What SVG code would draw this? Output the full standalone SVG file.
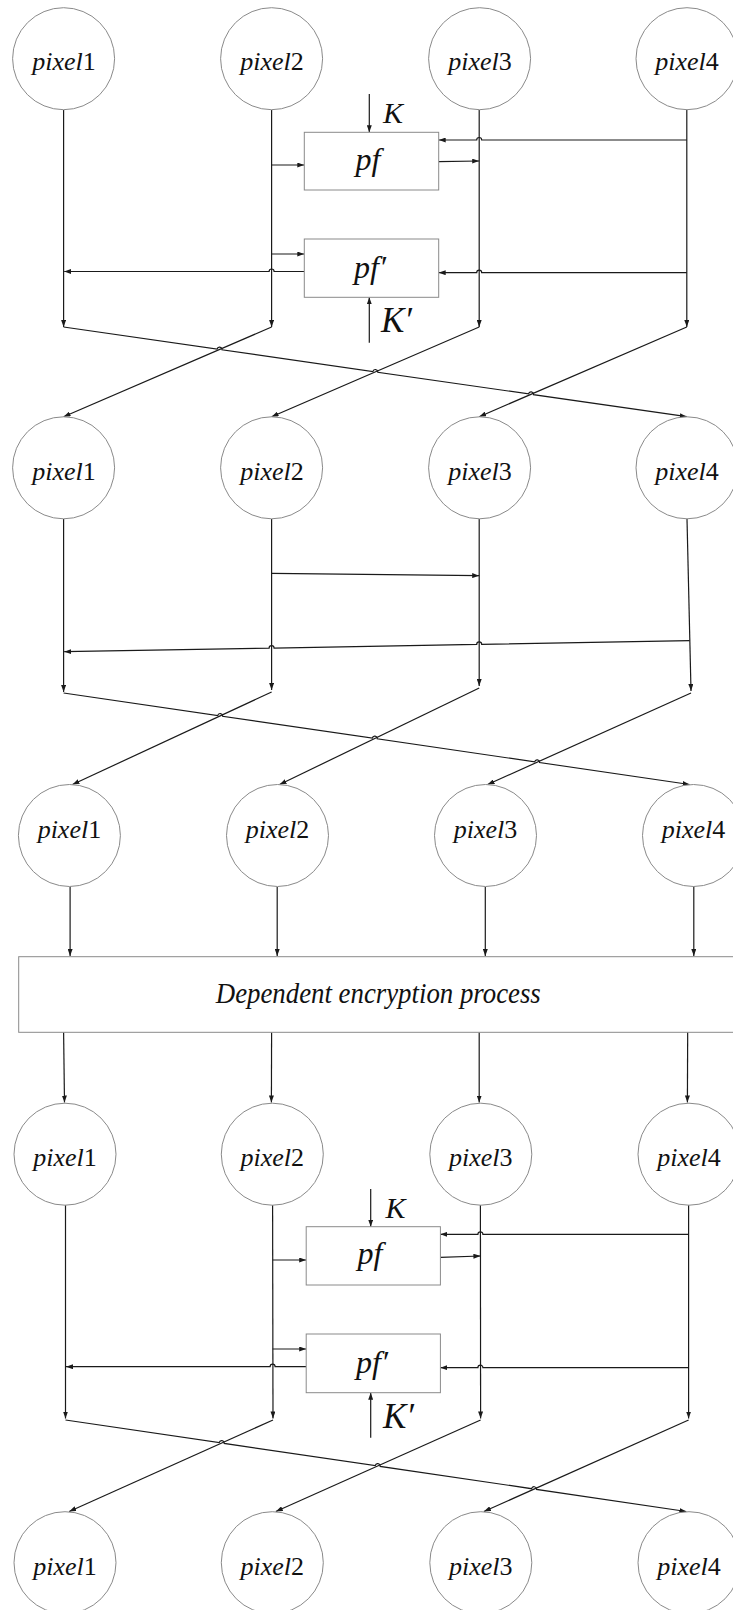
<svg xmlns="http://www.w3.org/2000/svg" width="733" height="1610" viewBox="0 0 733 1610">
  <defs>
    <marker id="ah" markerWidth="7" markerHeight="5" refX="7" refY="2.5" orient="auto" markerUnits="userSpaceOnUse">
      <path d="M0,0 L7,2.5 L0,5 z" fill="#1a1a1a"/>
    </marker>
    <style>
      text { font-family: 'Liberation Serif', 'DejaVu Serif', 'Times New Roman', serif; fill: #111; }
      .node { fill: #ffffff; stroke: #8a8a8a; stroke-width: 1; }
      .lbl { font-size: 26px; text-anchor: middle; }
      .it { font-style: italic; }
      .up { font-style: normal; }
      .fn { font-style: italic; font-size: 32px; text-anchor: middle; }
      .key { font-style: italic; }
      .big { font-style: italic; font-size: 29px; text-anchor: middle; }
      .a { fill: none; stroke: #1a1a1a; stroke-width: 1.2; marker-end: url(#ah); }
    </style>
  </defs>

  <rect x="0" y="0" width="733" height="1610" fill="#ffffff"/>

  <!-- connectors -->
  <g id="connectors">
    <!-- stage 1: first pixel row to permutation -->
    <path class="a" d="M63.6,110 L63.6,327"/>
    <path class="a" d="M271.6,110 L271.6,327"/>
    <path class="a" d="M479.2,110 L479.2,327"/>
    <path class="a" d="M686.8,110 L686.8,327"/>
    <path class="a" d="M369.3,94 L369.3,132.3"/>
    <path class="a" d="M686.8,140 L481.7,140 A2.5,2.5 0 0 0 476.7,140 L438.7,140"/>
    <path class="a" d="M271.6,165 L304.3,165"/>
    <path class="a" d="M438.7,161.7 L479.2,161"/>
    <path class="a" d="M271.6,254 L304.3,254"/>
    <path class="a" d="M304.3,271.5 L274.1,271.5 A2.5,2.5 0 0 0 269.1,271.5 L64.2,271.5"/>
    <path class="a" d="M686.8,272.7 L481.7,272.7 A2.5,2.5 0 0 0 476.7,272.7 L438.7,272.7"/>
    <path class="a" d="M369.3,342.7 L369.3,297.3"/>
    <path class="a" d="M63.6,327 L217.08,349.09 A2.5,2.5 0 0 1 222.02,349.81 L372.86,371.51 A2.5,2.5 0 0 1 377.8,372.23 L528.58,393.92 A2.5,2.5 0 0 1 533.52,394.64 L686.8,416.7"/>
    <path class="a" d="M271.6,327 L63.6,416.7"/>
    <path class="a" d="M479.2,327 L271.6,416.7"/>
    <path class="a" d="M686.8,327 L479.2,416.7"/>

    <!-- stage 2: second pixel row to permutation -->
    <path class="a" d="M63.6,519 L63.6,692"/>
    <path class="a" d="M271.6,519 L271.6,690"/>
    <path class="a" d="M479.2,519 L479.2,686"/>
    <path class="a" d="M687,519 L691,691"/>
    <path class="a" d="M271.6,573.3 L479.2,575.7"/>
    <path class="a" d="M689.6,640.7 L481.7,644.37 A2.5,2.5 0 0 0 476.7,644.45 L274.1,648.03 A2.5,2.5 0 0 0 269.1,648.11 L64.2,651.7"/>
    <path class="a" d="M63.6,693 L217.71,715.53 A2.5,2.5 0 0 1 222.65,716.25 L372.31,738.13 A2.5,2.5 0 0 1 377.25,738.85 L534.68,761.86 A2.5,2.5 0 0 1 539.62,762.58 L689.6,784.5"/>
    <path class="a" d="M271.6,692 L72.5,784.5"/>
    <path class="a" d="M479.2,688 L279.6,784.5"/>
    <path class="a" d="M691,693 L487.6,784.5"/>

    <!-- stage 3: into and out of the dependent encryption block -->
    <path class="a" d="M70.1,887 L70.1,956"/>
    <path class="a" d="M277.2,887 L277.2,956"/>
    <path class="a" d="M485.3,887 L485.3,956"/>
    <path class="a" d="M693.8,881.7 L693.8,956"/>
    <path class="a" d="M63.6,1032.3 L64.5,1102.5"/>
    <path class="a" d="M271.6,1032.3 L271.4,1102.5"/>
    <path class="a" d="M479.2,1032.3 L479.2,1102.5"/>
    <path class="a" d="M687.7,1027 L687.4,1102.5"/>

    <!-- stage 4: fourth pixel row to permutation -->
    <path class="a" d="M65.5,1205 L65.5,1418.5"/>
    <path class="a" d="M272.6,1205 L273,1418.5"/>
    <path class="a" d="M480.4,1205 L480.6,1418.5"/>
    <path class="a" d="M688.6,1205 L688.6,1418.5"/>
    <path class="a" d="M370.7,1189 L370.7,1226.7"/>
    <path class="a" d="M688.6,1234.3 L482.9,1234.3 A2.5,2.5 0 0 0 477.9,1234.3 L440.4,1234.3"/>
    <path class="a" d="M272.6,1260 L306.2,1260"/>
    <path class="a" d="M440.4,1257.3 L480.4,1256"/>
    <path class="a" d="M272.6,1349 L306.2,1349"/>
    <path class="a" d="M306.2,1366.7 L275.1,1366.7 A2.5,2.5 0 0 0 270.1,1366.7 L66,1366.7"/>
    <path class="a" d="M688.6,1367.7 L482.9,1367.7 A2.5,2.5 0 0 0 477.9,1367.7 L440.4,1367.7"/>
    <path class="a" d="M370.7,1437.7 L370.7,1392.7"/>
    <path class="a" d="M65.5,1420 L219.25,1442.67 A2.5,2.5 0 0 1 224.19,1443.39 L375.23,1465.66 A2.5,2.5 0 0 1 380.17,1466.38 L531.61,1488.7 A2.5,2.5 0 0 1 536.55,1489.42 L686.3,1511.5"/>
    <path class="a" d="M273,1420 L69.2,1511.5"/>
    <path class="a" d="M480.6,1420 L275.8,1511.5"/>
    <path class="a" d="M688.6,1420 L483.9,1511.5"/>
  </g>

  <!-- row 1 -->
  <g id="r1p1"><circle class="node" cx="63.6" cy="58.7" r="51"/><text class="lbl" x="64" y="69.5"><tspan class="it">pixel</tspan><tspan class="up">1</tspan></text></g>
  <g id="r1p2"><circle class="node" cx="271.6" cy="58.7" r="51"/><text class="lbl" x="272" y="69.5"><tspan class="it">pixel</tspan><tspan class="up">2</tspan></text></g>
  <g id="r1p3"><circle class="node" cx="479.6" cy="58.7" r="51"/><text class="lbl" x="480" y="69.5"><tspan class="it">pixel</tspan><tspan class="up">3</tspan></text></g>
  <g id="r1p4"><circle class="node" cx="687" cy="58.7" r="51"/><text class="lbl" x="687" y="69.5"><tspan class="it">pixel</tspan><tspan class="up">4</tspan></text></g>

  <!-- first permutation pair -->
  <g id="pf1"><rect class="node" x="304.3" y="132.3" width="134.4" height="57.7"/><text class="fn" x="368" y="169.5">pf</text></g>
  <g id="k1"><text class="key" x="383" y="122.7" font-size="30">K</text></g>
  <g id="pfp1"><rect class="node" x="304.3" y="239" width="134.4" height="58.3"/><text class="fn" x="370" y="278">pf′</text></g>
  <g id="kp1"><text class="key" x="381" y="332" font-size="35">K′</text></g>

  <!-- row 2 -->
  <g id="r2p1"><circle class="node" cx="63.6" cy="467.8" r="51"/><text class="lbl" x="64" y="479.5"><tspan class="it">pixel</tspan><tspan class="up">1</tspan></text></g>
  <g id="r2p2"><circle class="node" cx="271.6" cy="467.8" r="51"/><text class="lbl" x="272" y="479.5"><tspan class="it">pixel</tspan><tspan class="up">2</tspan></text></g>
  <g id="r2p3"><circle class="node" cx="479.6" cy="467.8" r="51"/><text class="lbl" x="480" y="479.5"><tspan class="it">pixel</tspan><tspan class="up">3</tspan></text></g>
  <g id="r2p4"><circle class="node" cx="687" cy="467.8" r="51"/><text class="lbl" x="687" y="479.5"><tspan class="it">pixel</tspan><tspan class="up">4</tspan></text></g>

  <!-- row 3 -->
  <g id="r3p1"><circle class="node" cx="69.4" cy="835.5" r="51"/><text class="lbl" x="69.4" y="838.3"><tspan class="it">pixel</tspan><tspan class="up">1</tspan></text></g>
  <g id="r3p2"><circle class="node" cx="277.5" cy="835.5" r="51"/><text class="lbl" x="277.5" y="838.3"><tspan class="it">pixel</tspan><tspan class="up">2</tspan></text></g>
  <g id="r3p3"><circle class="node" cx="485.5" cy="835.5" r="51"/><text class="lbl" x="485.5" y="838.3"><tspan class="it">pixel</tspan><tspan class="up">3</tspan></text></g>
  <g id="r3p4"><circle class="node" cx="693.5" cy="835.5" r="51"/><text class="lbl" x="693.5" y="838.3"><tspan class="it">pixel</tspan><tspan class="up">4</tspan></text></g>

  <!-- dependent encryption block -->
  <g id="dep"><rect class="node" x="18.7" y="956.7" width="730" height="75.6"/><text class="big" x="378.3" y="1003.3" textLength="325" lengthAdjust="spacingAndGlyphs">Dependent encryption process</text></g>

  <!-- row 4 -->
  <g id="r4p1"><circle class="node" cx="65" cy="1154.2" r="51"/><text class="lbl" x="65" y="1165.5"><tspan class="it">pixel</tspan><tspan class="up">1</tspan></text></g>
  <g id="r4p2"><circle class="node" cx="272.3" cy="1154.2" r="51"/><text class="lbl" x="272.3" y="1165.5"><tspan class="it">pixel</tspan><tspan class="up">2</tspan></text></g>
  <g id="r4p3"><circle class="node" cx="480.8" cy="1154.2" r="51"/><text class="lbl" x="480.8" y="1165.5"><tspan class="it">pixel</tspan><tspan class="up">3</tspan></text></g>
  <g id="r4p4"><circle class="node" cx="689" cy="1154.2" r="51"/><text class="lbl" x="689" y="1165.5"><tspan class="it">pixel</tspan><tspan class="up">4</tspan></text></g>

  <!-- second permutation pair -->
  <g id="pf2"><rect class="node" x="306.2" y="1226.7" width="134.2" height="58.3"/><text class="fn" x="370" y="1264">pf</text></g>
  <g id="k2"><text class="key" x="385.5" y="1218.3" font-size="30">K</text></g>
  <g id="pfp2"><rect class="node" x="306.2" y="1334" width="134.2" height="58.7"/><text class="fn" x="372" y="1373">pf′</text></g>
  <g id="kp2"><text class="key" x="383" y="1427.5" font-size="35">K′</text></g>

  <!-- row 5 -->
  <g id="r5p1"><circle class="node" cx="65" cy="1562.7" r="51"/><text class="lbl" x="65" y="1574.5"><tspan class="it">pixel</tspan><tspan class="up">1</tspan></text></g>
  <g id="r5p2"><circle class="node" cx="272.3" cy="1562.7" r="51"/><text class="lbl" x="272.3" y="1574.5"><tspan class="it">pixel</tspan><tspan class="up">2</tspan></text></g>
  <g id="r5p3"><circle class="node" cx="480.8" cy="1562.7" r="51"/><text class="lbl" x="480.8" y="1574.5"><tspan class="it">pixel</tspan><tspan class="up">3</tspan></text></g>
  <g id="r5p4"><circle class="node" cx="689" cy="1562.7" r="51"/><text class="lbl" x="689" y="1574.5"><tspan class="it">pixel</tspan><tspan class="up">4</tspan></text></g>
</svg>
